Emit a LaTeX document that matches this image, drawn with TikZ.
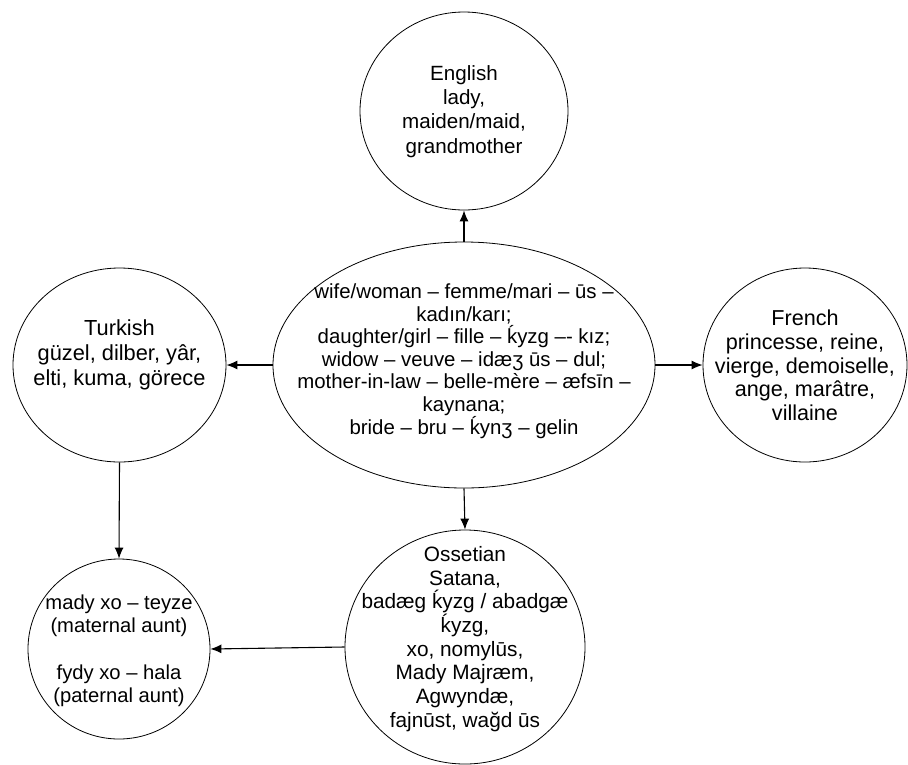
\documentclass[tikz,border=0pt]{standalone}
\usepackage{fontspec}
\setmainfont{Liberation Sans}
\usetikzlibrary{shapes.geometric,arrows.meta}

\begin{document}
\begin{tikzpicture}[x=1pt,y=-1pt,>={Latex[length=11pt,width=9pt]}]
\tikzset{
  lang/.style={draw,shape=ellipse,line width=.8pt,inner sep=0pt},
  words/.style={align=center,inner sep=0pt,font=\fontsize{20.8}{23.7}\selectfont},
  link/.style={->,line width=1.1pt}
}
\useasboundingbox (0,0) rectangle (908,764);
% the ellipses
\node[lang,minimum width=382pt,minimum height=246pt] (central) at (464,365) {};
\node[lang,minimum width=208pt,minimum height=198pt] (english) at (464,111) {};
\node[lang,minimum width=213pt,minimum height=194pt] (turkish) at (119.5,365) {};
\node[lang,minimum width=204pt,minimum height=194pt] (french) at (805,365) {};
\node[lang,minimum width=240pt,minimum height=234pt] (ossetian) at (465,647) {};
\node[lang,minimum width=182pt,minimum height=180pt] (aunt) at (119,649) {};
% their texts
\node[words,font=\fontsize{20.4}{22.6}\selectfont] (central-words) at (464,361)
  {wife/woman – femme/mari – ūs –\\kadın/karı;\\daughter/girl – fille – ḱyzg –- kız;\\widow – veuve – idæʒ ūs – dul;\\mother-in-law – belle-mère – æfsīn –\\kaynana;\\bride – bru – ḱynʒ – gelin};
\node[words,font=\fontsize{20.6}{24.3}\selectfont] (english-words) at (464,111.5)
  {English\\lady,\\maiden/maid,\\grandmother};
\node[words,font=\fontsize{21.8}{25}\selectfont] (turkish-words) at (119.5,355)
  {Turkish\\güzel, dilber, yâr,\\elti, kuma, görece};
\node[words,font=\fontsize{21.6}{23.7}\selectfont] (french-words) at (805,365.5)
  {French\\princesse, reine,\\vierge, demoiselle,\\ange, marâtre,\\villaine};
\node[words] (ossetian-words) at (465,639)
  {Ossetian\\Satana,\\badæg ḱyzg / abadgæ\\ḱyzg,\\xo, nomylūs,\\Mady Majræm,\\Agwyndæ,\\fajnūst, wağd ūs};
\node[words,font=\fontsize{20.2}{23.3}\selectfont] (aunt-words) at (119,651)
  {mady xo – teyze\\(maternal aunt)\\[23.3pt]fydy xo – hala\\(paternal aunt)};
% arrows
\draw[link] (central.north) -- (english.south);
\draw[link] (central.west) -- (turkish.east);
\draw[link] (central.east) -- (french.west);
\draw[link] (central.south) -- (ossetian.north);
\draw[link] (turkish.south) -- (aunt.north);
\draw[link] (ossetian.west) -- (aunt.east);
\end{tikzpicture}
\end{document}
